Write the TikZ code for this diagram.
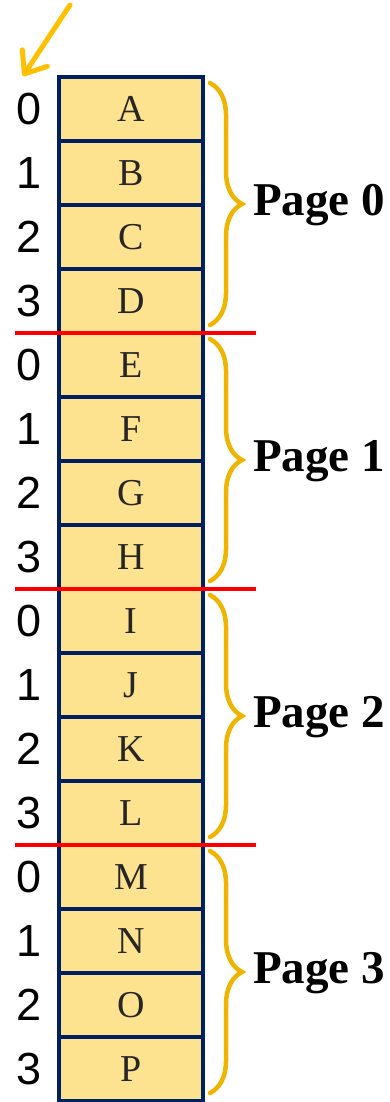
\documentclass[tikz,border=0pt]{standalone}
\usepackage{fontspec}
\setmainfont{Liberation Serif}
\newfontfamily\indexfont{Liberation Sans}
\usetikzlibrary{positioning,calc,arrows.meta,decorations.pathreplacing}
\definecolor{cellfill}{HTML}{FDE28F}
\definecolor{cellline}{HTML}{002060}
\definecolor{bracecol}{HTML}{EFB300}
\definecolor{arrowcol}{HTML}{FFC000}

\begin{document}
\begin{tikzpicture}[x=1pt, y=-1pt]
  \tikzstyle{cell}=[rectangle, draw=cellline, fill=cellfill, line width=3.5pt, minimum width=144pt, minimum height=64pt, inner sep=0pt, outer sep=0pt, text=black!85, font=\fontsize{38}{38}\selectfont]
  \tikzstyle{offset}=[inner sep=0pt, font=\indexfont\fontsize{45}{45}\selectfont]
  \tikzstyle{pagename}=[inner sep=0pt, font=\bfseries\fontsize{47}{47}\selectfont]
  \tikzstyle{pagebrace}=[draw=bracecol, line width=4.5pt, line cap=round, decorate, decoration={brace, amplitude=32pt}]
  \tikzstyle{boundary}=[draw=red, line width=4pt]
  \tikzstyle{pointer}=[draw=arrowcol, line width=5pt, line cap=round, -{Straight Barb[length=19pt, width=30pt, round]}]

  \useasboundingbox (0,0) rectangle (390,1102);

  % memory cells with their offsets
  \foreach \letter [count=\i from 0] in {A,...,P} {
    \node [cell] (c\i) at (131, 109+64*\i) {\letter};
    \pgfmathtruncatemacro{\off}{mod(\i,4)}
    \node [offset, left=17pt of c\i] (off\i) {\off};
  }

  % pages
  \foreach \p in {0,...,3} {
    \pgfmathtruncatemacro{\first}{4*\p}
    \pgfmathtruncatemacro{\mid}{4*\p+1}
    \pgfmathtruncatemacro{\last}{4*\p+3}
    \draw [pagebrace] ($(c\first.north east)+(7,6)$) -- ($(c\last.south east)+(7,-8)$);
    \node [pagename, right=50pt of c\mid.south east] (page\p) {Page \p};
  }

  % page boundaries
  \foreach \b in {3,7,11} {
    \draw [boundary] ($(c\b.south west)+(-44,0)$) -- ($(c\b.south east)+(53,0)$);
  }

  \coordinate (ptail) at (70,5);
  \coordinate (phead) at (23,76);
  \draw [pointer] (ptail) -- (phead);
\end{tikzpicture}
\end{document}
